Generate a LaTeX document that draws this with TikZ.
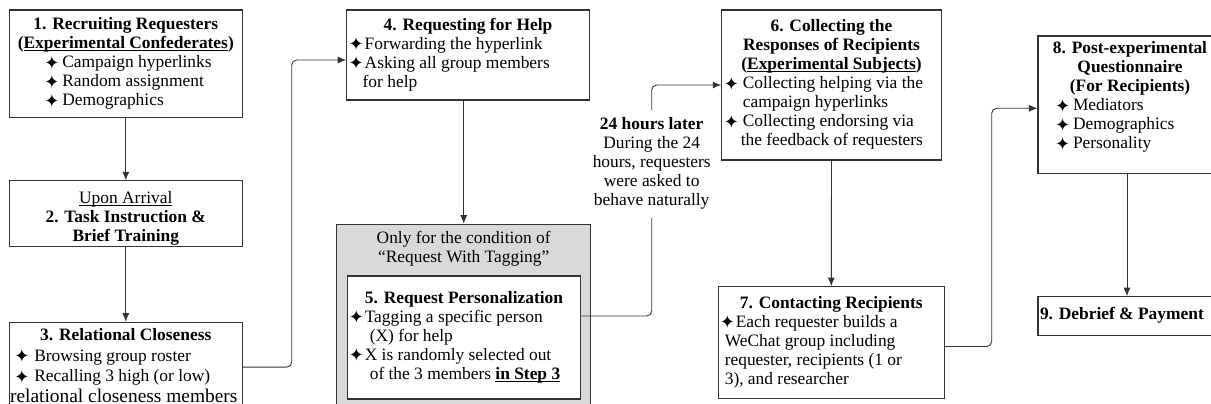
\documentclass[tikz,border=0pt]{standalone}
\usepackage{fontspec}
\setmainfont{Liberation Serif}
\newfontfamily\symf{DejaVu Sans}
\usetikzlibrary{arrows.meta}
\definecolor{ln}{HTML}{333333}
\definecolor{gfill}{HTML}{D9D9D9}
\newlength\bw
\newcommand\bul[1][18pt]{\makebox[#1][l]{\smash{\raisebox{-1.6pt}{\symf\fontsize{18}{18}\selectfont ✦}}}}
\newcommand\uln[1]{\setbox0\hbox{#1}\rlap{\rule[-2.4pt]{\wd0}{0.9pt}}\box0}
\newcommand\shup[2]{\raisebox{0pt}[\height][\dimexpr\depth+#1\relax]{#2}}
\newcommand\shdn[2]{\raisebox{0pt}[\dimexpr\height+#1\relax][\depth]{#2}}
\newcommand\row[2]{\makebox[\bw][l]{\hspace*{#1}#2}}
\newcommand\ctr[2][0pt]{\makebox[\bw][c]{#2\hspace*{#1}}}
\tikzset{
  box/.style={draw=ln, line width=1.1pt, fill=white, inner sep=0pt,
    font=\fontsize{17.4}{19}\selectfont},
  plain/.style={inner sep=0pt, font=\fontsize{17.4}{19}\selectfont},
  arr/.style={draw=ln, line width=0.9pt, -{Latex[length=8.5pt,width=7pt]}},
  conn/.style={draw=ln, line width=0.9pt, rounded corners=5pt},
}
\begin{document}
\begin{tikzpicture}[x=1pt,y=-1pt]
\useasboundingbox (0,0) rectangle (1211,404);

% column 1
\node[box, minimum width=233pt, minimum height=107.3pt] (box1) at (125.8,63.7)
 {\setlength\bw{233pt}\begin{tabular}{@{}l@{}}
  \ctr{\textbf{1. Recruiting Requesters}}\\
  \ctr{\textbf{(\uln{Experimental Confederates})}}\\
  \row{35pt}{\bul Campaign hyperlinks}\\
  \row{35pt}{\bul Random assignment}\\
  \row{35pt}{\bul Demographics}
 \end{tabular}};

\node[box, minimum width=233pt, minimum height=64.3pt] (box2) at (125.8,213.9)
 {\shdn{9pt}{\begin{tabular}{@{}c@{}}
  \uln{Upon Arrival}\\
  \textbf{2. Task Instruction \&}\\
  \textbf{Brief Training}
 \end{tabular}}};

\node[box, anchor=north, minimum width=233pt, inner ysep=3.9pt] (box3) at (125.8,321.7)
 {\setlength\bw{233pt}\renewcommand\arraystretch{1.08}\begin{tabular}{@{}l@{}}
  \ctr{\textbf{3. Relational Closeness}}\\
  \row{5pt}{\bul[20pt]Browsing group roster}\\
  \row{5pt}{\bul[20pt]Recalling 3 high (or low)}\\
  \row{0.8pt}{\fontsize{19.4}{19}\selectfont relational closeness members}
 \end{tabular}};

% column 2
\node[box, minimum width=242.6pt, minimum height=90pt] (box4) at (468,55)
 {\setlength\bw{242.6pt}\begin{tabular}{@{}l@{}}
  \ctr{\textbf{4. Requesting for Help}}\\
  \row{2pt}{\bul[16pt]Forwarding the hyperlink}\\
  \row{2pt}{\bul[16pt]Asking all group members}\\
  \row{16pt}{for help}
 \end{tabular}};

\node[draw=ln, line width=1.1pt, fill=gfill, anchor=north, minimum width=254pt,
  minimum height=200pt, inner sep=0pt] (cond) at (463.7,223.7) {};
\node[plain] (condtxt) at (463.7,249.5)
 {\begin{tabular}{@{}c@{}}Only for the condition of\\“Request With Tagging”\end{tabular}};

\node[box, minimum width=233.4pt, minimum height=123pt] (box5) at (464,337.5)
 {\setlength\bw{233.4pt}\begin{tabular}{@{}l@{}}
  \ctr{\textbf{5. Request Personalization}}\\
  \row{1.5pt}{\bul[16pt]Tagging a specific person}\\
  \row{22.5pt}{(X) for help}\\
  \row{1.5pt}{\bul[16pt]X is randomly selected out}\\
  \row{22.5pt}{of the 3 members \textbf{\uln{in Step 3}}}
 \end{tabular}};

% label
\node[plain, minimum height=108pt] (lab) at (651.7,164)
 {\begin{tabular}{@{}c@{}}\textbf{24 hours later}\\During the 24\\hours, requesters\\were asked to\\behave naturally\end{tabular}};

% column 3
\node[box, minimum width=219.4pt, minimum height=150pt] (box6) at (831.5,85)
 {\setlength\bw{219.4pt}\begin{tabular}{@{}l@{}}
  \ctr{\textbf{6. Collecting the}}\\
  \ctr{\textbf{Responses of Recipients}}\\
  \ctr{\textbf{(\uln{Experimental Subjects})}}\\
  \row{2pt}{\bul[19pt]Collecting helping via the}\\
  \row{21pt}{campaign hyperlinks}\\
  \row{2pt}{\bul[19pt]Collecting endorsing via}\\
  \row{19pt}{the feedback of requesters}
 \end{tabular}};

\node[box, minimum width=226pt, minimum height=111.6pt] (box7) at (831.3,342.5)
 {\setlength\bw{226pt}\begin{tabular}{@{}l@{}}
  \ctr{\textbf{7. Contacting Recipients}}\\
  \row{1.5pt}{\bul[16pt]Each requester builds a}\\
  \row{6.5pt}{WeChat group including}\\
  \row{6.5pt}{requester, recipients (1 or}\\
  \row{6.5pt}{3), and researcher}
 \end{tabular}};

% column 4
\node[box, minimum width=196pt, minimum height=137.3pt] (box8) at (1136,104.7)
 {\shup{14pt}{\setlength\bw{196pt}\begin{tabular}{@{}l@{}}
  \ctr[12pt]{\textbf{8. Post-experimental}}\\
  \ctr[12pt]{\textbf{Questionnaire}}\\
  \ctr[12pt]{\textbf{(For Recipients)}}\\
  \row{17pt}{\bul Mediators}\\
  \row{17pt}{\bul Demographics}\\
  \row{17pt}{\bul Personality}
 \end{tabular}}};

\node[box, minimum width=196pt, minimum height=38.3pt] (box9) at (1136,315.9)
 {\setlength\bw{196pt}\begin{tabular}{@{}l@{}}\row{2pt}{\textbf{9. Debrief \& Payment}}\end{tabular}};

% connectors
\coordinate (k1) at (291.7,60);
\coordinate (k2) at (651.7,316);
\coordinate (k4) at (991.7,108.3);

\draw[arr] (box1.south) -- (box2.north);
\draw[arr] (box2.south) -- (box3.north);
\draw[arr, rounded corners=5pt] (box3.east) -| (k1) -- (k1 -| box4.west);
\draw[arr] (box4.south -| cond.north) -- (cond.north);
\draw[conn] (box5.east |- k2) -- (k2) -- (lab.south);
\draw[arr, rounded corners=5pt] (lab.north) |- (box6.west);
\draw[arr] (box6.south) -- (box7.north);
\draw[arr, rounded corners=5pt] ([yshift=-4pt]box7.east) -| (k4) -- (k4 -| box8.west);
\draw[arr] ([xshift=-9pt]box8.south) -- ([xshift=-9pt]box9.north);
\end{tikzpicture}
\end{document}
